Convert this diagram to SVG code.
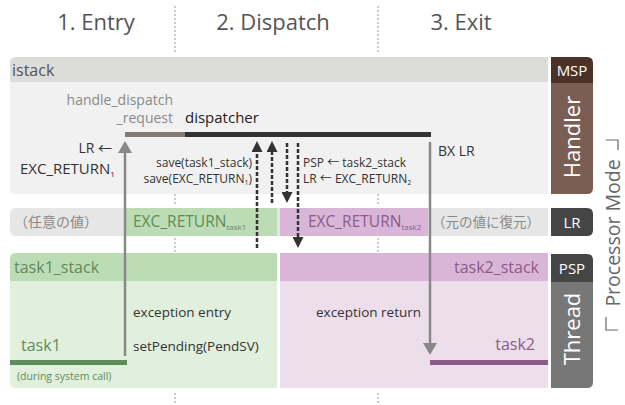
<svg xmlns="http://www.w3.org/2000/svg" width="625" height="405" viewBox="0 0 625 405">
<style>
text{font-family:"Open Sans","Noto Sans","Noto Sans CJK JP",sans-serif}
.h{font-size:22px;fill:#555;text-anchor:middle}
.sep{stroke:#999;stroke-width:1;stroke-dasharray:2 2;fill:none}
.tab{font-size:15px;fill:#fff;text-anchor:middle}
.tabv{font-size:22px;fill:#fff;text-anchor:middle}
.lbl{font-size:14px;fill:#333}
.sm{font-size:12px;fill:#333}
.g{fill:#5e8c5b}
.p{fill:#8b5c89}
.gr{fill:#8a8a8a}
.dash{stroke:#333;stroke-width:2.5;stroke-dasharray:4 2;fill:none}
.gline{stroke:#888;stroke-width:2.5;fill:none}
</style>
<defs>
<marker id="ag" viewBox="0 0 12 14" refX="2" refY="7" markerWidth="12" markerHeight="14" markerUnits="userSpaceOnUse" orient="auto"><path d="M0,0 L12,7 L0,14 Z" fill="#888"/></marker>
<marker id="ad" viewBox="0 0 11 11" refX="2" refY="5.5" markerWidth="11" markerHeight="11" markerUnits="userSpaceOnUse" orient="auto"><path d="M0,0 L11,5.5 L0,11 Z" fill="#333"/></marker>
</defs>

<g id="headings">
<text class="h" x="96" y="30">1. Entry</text>
<text class="h" x="273" y="30">2. Dispatch</text>
<text class="h" x="461" y="30">3. Exit</text>
</g>
<g id="separators">
<path class="sep" d="M175,6V52M175,190V206M175,238V252M175,393V405M378,6V52M378,190V206M378,238V252M378,393V405"/>
</g>

<g id="handler-row">
<path d="M10,82V63Q10,57 16,57H548V82Z" fill="#dcdcdb"/>
<path d="M10,82H548V194H16Q10,194 10,188Z" fill="#f0f1f0"/>
<text x="12" y="76" style="font-size:16px;fill:#555">istack</text>
</g>
<g id="lr-row">
<path d="M16,208H548V236H16Q10,236 10,230V214Q10,208 16,208Z" fill="#e6e6e6"/>
<rect x="125" y="208" width="152" height="28" fill="#bcdcb5"/>
<rect x="280" y="208" width="148" height="28" fill="#d9b6d7"/>
<text x="14" y="227" class="gr" style="font-size:14px">（任意の値）</text>
<text x="133" y="227" class="g" style="font-size:15.5px">EXC_RETURN<tspan dy="3" style="font-size:8px">task1</tspan></text>
<text x="308" y="227" class="p" style="font-size:15.5px">EXC_RETURN<tspan dy="3" style="font-size:8px">task2</tspan></text>
<text x="432" y="227" class="gr" style="font-size:13.5px">（元の値に復元）</text>
</g>
<g id="psp-row">
<path d="M16,253H277V281H10V259Q10,253 16,253Z" fill="#bcdcb5"/>
<rect x="280" y="253" width="268" height="28" fill="#d9b6d7"/>
<text x="14" y="273" class="g" style="font-size:16px">task1_stack</text>
<text x="539" y="273" class="p" style="font-size:16px;text-anchor:end">task2_stack</text>
</g>
<g id="thread-row">
<path d="M10,281H277V388H16Q10,388 10,382Z" fill="#e1efdd"/>
<rect x="280" y="281" width="268" height="107" fill="#eddeeb"/>
</g>

<g id="tabs">
<g id="tab-msp"><path d="M551,57H587Q593,57 593,63V83H551Z" fill="#4b3126"/><text class="tab" x="572" y="76">MSP</text></g>
<g id="tab-handler"><path d="M551,83H593V188Q593,194 587,194H551Z" fill="#7a5d53"/><text class="tabv" transform="translate(580,137) rotate(-90)">Handler</text></g>
<g id="tab-lr"><path d="M551,208H587Q593,208 593,214V230Q593,236 587,236H551Z" fill="#454545"/><text class="tab" x="572" y="228">LR</text></g>
<g id="tab-psp"><path d="M551,254H587Q593,254 593,260V282H551Z" fill="#454545"/><text class="tab" x="572" y="274">PSP</text></g>
<g id="tab-thread"><path d="M551,282H593V382Q593,388 587,388H551Z" fill="#777"/><text class="tabv" transform="translate(580,329) rotate(-90)">Thread</text></g>
</g>
<g id="processor-mode">
<path d="M606,140H618V150M606,317V330H618" stroke="#666" stroke-width="1.2" fill="none"/>
<text transform="translate(620,233) rotate(-90)" style="font-size:19.5px;fill:#666;text-anchor:middle">Processor Mode</text>
</g>

<g id="bars">
<rect x="125" y="132" width="60" height="5" fill="#857b75"/>
<rect x="185" y="132" width="246" height="5" fill="#333"/>
<rect x="10" y="360" width="117" height="5" fill="#5e8c5b"/>
<rect x="430" y="360" width="118" height="5" fill="#8b5c89"/>
</g>

<g id="labels">
<text x="173" y="105" class="gr" style="font-size:14px;text-anchor:end">handle_dispatch</text>
<text x="173" y="123" class="gr" style="font-size:14px;text-anchor:end">_request</text>
<text x="185" y="123" style="font-size:15px;fill:#222">dispatcher</text>
<text x="112" y="153" class="lbl" style="text-anchor:end">LR ←</text>
<text x="20" y="174" style="font-size:15px;fill:#333">EXC_RETURN<tspan dy="3" style="font-size:8px">1</tspan></text>
<text x="252" y="167" class="sm" style="text-anchor:end">save(task1_stack)</text>
<text x="252" y="183" class="sm" style="text-anchor:end">save(EXC_RETURN<tspan dy="2" style="font-size:7px">1</tspan><tspan dy="-2">)</tspan></text>
<text x="303" y="167" class="sm">PSP ← task2_stack</text>
<text x="303" y="183" class="sm">LR ← EXC_RETURN<tspan dy="2" style="font-size:7px">2</tspan></text>
<text x="438" y="156" class="lbl">BX LR</text>
<text x="133" y="317" style="font-size:13.5px;fill:#333">exception entry</text>
<text x="133" y="351" style="font-size:13.5px;fill:#333">setPending(PendSV)</text>
<text x="316" y="317" style="font-size:13.5px;fill:#333">exception return</text>
<text x="21" y="351" class="g" style="font-size:16px">task1</text>
<text x="17" y="380" class="g" style="font-size:10.5px">(during system call)</text>
<text x="535" y="350" class="p" style="font-size:16px;text-anchor:end">task2</text>
</g>

<g id="connectors">
<path class="gline" d="M125,356V151" marker-end="url(#ag)"/>
<path class="gline" d="M430,142V345" marker-end="url(#ag)"/>
<path class="dash" d="M257,248V150" marker-end="url(#ad)"/>
<path class="dash" d="M272,203V150" marker-end="url(#ad)"/>
<path class="dash" d="M287,143V194" marker-end="url(#ad)"/>
<path class="dash" d="M298,143V239" marker-end="url(#ad)"/>
</g>
</svg>
